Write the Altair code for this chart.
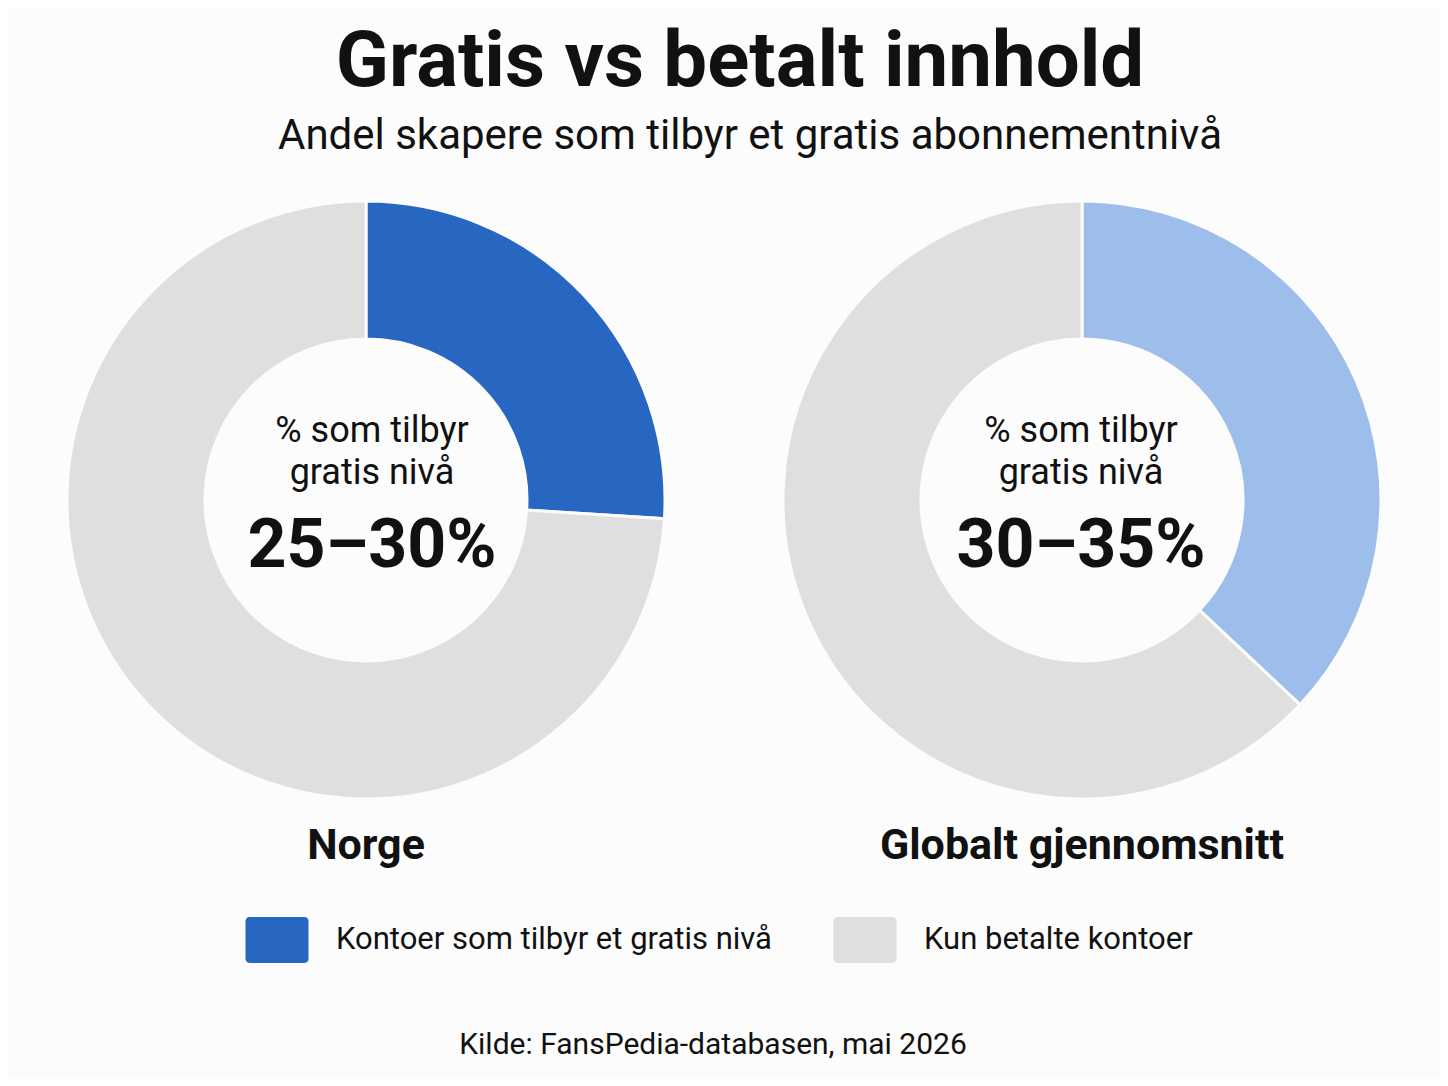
import altair as alt
import pandas as pd

# data
regioner = ["Norge", "Globalt gjennomsnitt"]
gratis_andel = [26, 37]          # share of the ring taken by the free-tier slice
intervall = ["25–30%", "30–35%"]
kategorier = ["Kontoer som tilbyr et gratis nivå", "Kun betalte kontoer"]
farge_navn = ["Kontoer som tilbyr et gratis nivå", "gratis (globalt)", "Kun betalte kontoer"]
farger = ["#2767C2", "#9DBDEA", "#DFDFDF"]

tittel = "Gratis vs betalt innhold"
undertittel = "Andel skapere som tilbyr et gratis abonnementnivå"
midttekst = ["% som tilbyr", "gratis nivå"]
kilde = "Kilde: FansPedia-databasen, mai 2026"

rows = []
for i, (reg, fri) in enumerate(zip(regioner, gratis_andel)):
    rows.append({"region": reg, "kategori": kategorier[0], "andel": fri, "rekke": 0,
                 "farge": kategorier[0] if i == 0 else "gratis (globalt)"})
    rows.append({"region": reg, "kategori": kategorier[1], "andel": 100 - fri, "rekke": 1,
                 "farge": kategorier[1]})
df = pd.DataFrame(rows)
tekst = pd.DataFrame({"region": regioner, "intervall": intervall})

BG = "#FCFCFC"
INK = "#111111"
FONT = "Roboto"
CY = 492

color = alt.Color(
    "farge:N",
    scale=alt.Scale(domain=farge_navn, range=farger),
    legend=alt.Legend(
        orient="none", legendX=246, legendY=909, direction="horizontal",
        title=None, values=kategorier,
        symbolType="M-1.2,-1H1.2A0.17,0.17 0 0 1 1.37,-0.83V0.83A0.17,0.17 0 0 1 1.2,1"
                   "H-1.2A0.17,0.17 0 0 1 -1.37,0.83V-0.83A0.17,0.17 0 0 1 -1.2,-1Z",
        symbolSize=2116, symbolStrokeWidth=0, symbolOpacity=1,
        labelFont=FONT, labelFontSize=31, labelColor=INK, labelLimit=0,
        labelOffset=36, columnPadding=61,
    ),
)


def txt(value, x, y, size, weight="normal"):
    return alt.Chart(pd.DataFrame({"t": [value]})).mark_text(
        font=FONT, fontSize=size, fontWeight=weight, color=INK, baseline="alphabetic"
    ).encode(text="t:N", x=alt.value(x), y=alt.value(y))


def donut(region, cx, tx):
    arc = alt.Chart(df).transform_filter(alt.datum.region == region).mark_arc(
        outerRadius=299, innerRadius=161, stroke=BG, strokeWidth=3
    ).encode(
        theta=alt.Theta("andel:Q", stack=True),
        color=color,
        order=alt.Order("rekke:Q"),
        x=alt.value(cx), y=alt.value(CY),
        tooltip=["region:N", "kategori:N", "andel:Q"],
    )
    base = alt.Chart(tekst).transform_filter(alt.datum.region == region)
    big = base.mark_text(font=FONT, fontSize=68, fontWeight="bold", color=INK,
                         baseline="alphabetic").encode(
        text="intervall:N", x=alt.value(tx), y=alt.value(559))
    name = base.mark_text(font=FONT, fontSize=43, fontWeight="bold", color=INK,
                          baseline="alphabetic").encode(
        text="region:N", x=alt.value(cx), y=alt.value(851))
    return [arc, txt(midttekst[0], tx, 434, 36), txt(midttekst[1], tx, 476, 36), big, name]


layers = (
    [txt(tittel, 732, 78, 78, "bold"), txt(undertittel, 742, 141, 42)]
    + donut(regioner[0], 358, 364)
    + donut(regioner[1], 1074, 1073)
    + [txt(kilde, 705, 1046, 30)]
)

chart = alt.layer(*layers).properties(
    width=1432, height=1070,
    autosize=alt.AutoSizeParams(type="fit", contains="padding"),
    padding=0, background=BG,
).configure_view(stroke=None)

chart.save("out.html", embed_options={"renderer": "svg", "actions": False})
